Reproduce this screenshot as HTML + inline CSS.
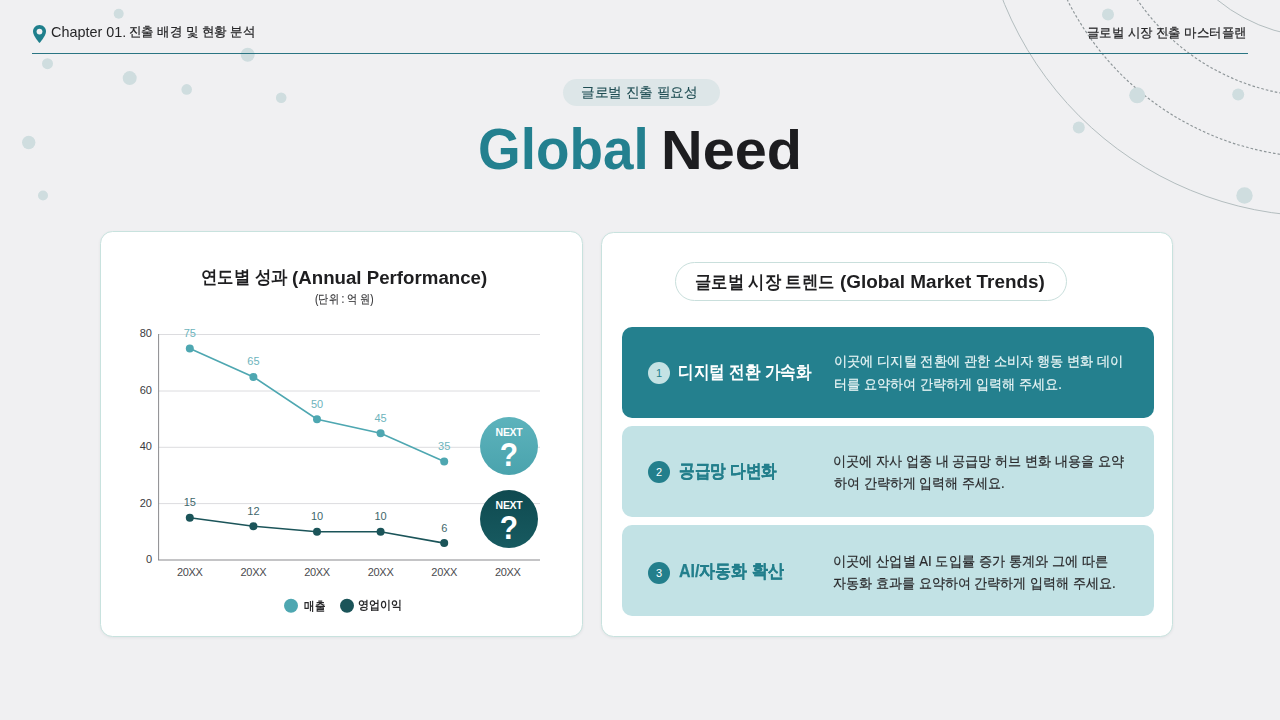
<!DOCTYPE html>
<html lang="ko">
<head>
<meta charset="utf-8">
<style>
*{margin:0;padding:0;box-sizing:border-box}
html,body{width:1280px;height:720px;overflow:hidden}
body{position:relative;background:#f0f0f2;font-family:"Liberation Sans",sans-serif;color:#222}
.abs{position:absolute}
.nw{white-space:nowrap}
#bg{position:absolute;left:0;top:0}
.hdr{position:absolute;top:24px;font-size:14px;line-height:16px;color:#252527;white-space:nowrap}
.card{position:absolute;background:#fff;border:1px solid #c8e2de;border-radius:12.5px;box-shadow:0 1px 3px rgba(40,60,70,0.07)}
.item{position:absolute;left:622px;width:532px;border-radius:10px}
.num{position:absolute;left:648px;width:22px;height:22px;border-radius:50%;font-size:11px;line-height:22px;text-align:center}
.ititle{position:absolute;left:679px;font-size:18px;line-height:20px;font-weight:700;white-space:nowrap;letter-spacing:-2.2px}
.idesc{position:absolute;left:834px;font-size:14px;line-height:23px;white-space:nowrap;letter-spacing:-0.7px}
.tx{position:absolute;white-space:nowrap;line-height:1;transform-origin:0 0}
</style>
</head>
<body>
<svg id="bg" width="1280" height="720" viewBox="0 0 1280 720">
  <defs>
    <filter id="blur" x="-50%" y="-50%" width="200%" height="200%"><feGaussianBlur stdDeviation="0.6"/></filter>
  </defs>
  <g fill="none" stroke-width="1">
    <circle cx="1321.6" cy="-126.7" r="343" stroke="#b3bdbf"/>
    <circle cx="1321.6" cy="-126.7" r="284" stroke="#8e9699" stroke-width="1.15" stroke-dasharray="2.6 2"/>
    <circle cx="1321.6" cy="-126.7" r="223.5" stroke="#8e9699" stroke-width="1.15" stroke-dasharray="2.6 2"/>
    <circle cx="1321.6" cy="-126.7" r="164" stroke="#b3bdbf"/>
  </g>
  <g fill="#cfdddf" filter="url(#blur)">
    <circle cx="118.7" cy="13.7" r="5"/>
    <circle cx="47.5" cy="63.7" r="5.5"/>
    <circle cx="129.7" cy="78.1" r="7"/>
    <circle cx="186.7" cy="89.4" r="5.3"/>
    <circle cx="247.7" cy="54.7" r="7"/>
    <circle cx="281.2" cy="97.7" r="5.3"/>
    <circle cx="28.7" cy="142.5" r="6.7"/>
    <circle cx="43" cy="195.5" r="5"/>
    <circle cx="1108" cy="14.6" r="6"/>
    <circle cx="1137.2" cy="95.3" r="8"/>
    <circle cx="1078.8" cy="127.4" r="6"/>
    <circle cx="1238.2" cy="94.6" r="6"/>
    <circle cx="1244.5" cy="195.5" r="8.2"/>
  </g>
</svg>

<!-- header -->
<svg class="abs" style="left:33px;top:25px" width="13" height="18" viewBox="0 0 13 18">
  <path d="M6.5 0C2.9 0 0 2.9 0 6.4c0 4.3 6.5 11.6 6.5 11.6S13 10.7 13 6.4C13 2.9 10.1 0 6.5 0z" fill="#1f7f8c"/>
  <circle cx="6.5" cy="6.6" r="2.9" fill="#f0f0f2"/>
</svg>
<div class="abs" style="left:32px;top:53px;width:1216px;height:1px;background:#2a7583"></div>

<!-- title -->
<div class="abs" style="left:562.5px;top:78.5px;width:157px;height:27px;border-radius:14px;background:#dde6e8"></div>

<!-- left card -->
<div class="card" style="left:99.5px;top:230.5px;width:483px;height:406px"></div>

<svg class="abs" style="left:0;top:0" width="1280" height="720" viewBox="0 0 1280 720">
  <g stroke="#dcdcdf" stroke-width="1">
    <line x1="158.5" y1="334.5" x2="540" y2="334.5"/>
    <line x1="158.5" y1="391" x2="540" y2="391"/>
    <line x1="158.5" y1="447.3" x2="540" y2="447.3"/>
    <line x1="158.5" y1="503.6" x2="540" y2="503.6"/>
  </g>
  <line x1="158.6" y1="334" x2="158.6" y2="560" stroke="#8a8a8e" stroke-width="1"/>
  <line x1="158" y1="560" x2="540" y2="560" stroke="#8a8a8e" stroke-width="1.2"/>
  <g font-family="Liberation Sans" font-size="11" fill="#3a3a3e" text-anchor="end">
    <text x="152" y="337">80</text>
    <text x="152" y="393.5">60</text>
    <text x="152" y="450">40</text>
    <text x="152" y="506.5">20</text>
    <text x="152" y="563">0</text>
  </g>
  <g font-family="Liberation Sans" font-size="11" fill="#4a4a4e" text-anchor="middle" letter-spacing="-0.3">
    <text x="189.8" y="576">20XX</text>
    <text x="253.4" y="576">20XX</text>
    <text x="317" y="576">20XX</text>
    <text x="380.6" y="576">20XX</text>
    <text x="444.2" y="576">20XX</text>
    <text x="507.8" y="576">20XX</text>
  </g>
  <!-- series 1 -->
  <polyline points="189.8,348.6 253.4,376.9 317,419.2 380.6,433.3 444.2,461.5" fill="none" stroke="#4ea7b1" stroke-width="1.6"/>
  <g fill="#4ea7b1">
    <circle cx="189.8" cy="348.6" r="4"/>
    <circle cx="253.4" cy="376.9" r="4"/>
    <circle cx="317" cy="419.2" r="4"/>
    <circle cx="380.6" cy="433.3" r="4"/>
    <circle cx="444.2" cy="461.5" r="4"/>
  </g>
  <g font-family="Liberation Sans" font-size="11" fill="#6db4bc" text-anchor="middle">
    <text x="189.8" y="337">75</text>
    <text x="253.4" y="365.3">65</text>
    <text x="317" y="407.6">50</text>
    <text x="380.6" y="421.7">45</text>
    <text x="444.2" y="449.9">35</text>
  </g>
  <!-- series 2 -->
  <polyline points="189.8,517.7 253.4,526.2 317,531.8 380.6,531.8 444.2,543.1" fill="none" stroke="#1b5459" stroke-width="1.6"/>
  <g fill="#1b5459">
    <circle cx="189.8" cy="517.7" r="4"/>
    <circle cx="253.4" cy="526.2" r="4"/>
    <circle cx="317" cy="531.8" r="4"/>
    <circle cx="380.6" cy="531.8" r="4"/>
    <circle cx="444.2" cy="543.1" r="4"/>
  </g>
  <g font-family="Liberation Sans" font-size="11" fill="#41676b" text-anchor="middle">
    <text x="189.8" y="506.3">15</text>
    <text x="253.4" y="514.8">12</text>
    <text x="317" y="520.4">10</text>
    <text x="380.6" y="520.4">10</text>
    <text x="444.2" y="531.7">6</text>
  </g>
  <!-- next circles -->
  <defs>
    <linearGradient id="g1" x1="0" y1="0" x2="0" y2="1"><stop offset="0" stop-color="#5db3bc"/><stop offset="1" stop-color="#4aa3ad"/></linearGradient>
    <linearGradient id="g2" x1="0" y1="0" x2="0" y2="1"><stop offset="0" stop-color="#0f4a50"/><stop offset="1" stop-color="#175a60"/></linearGradient>
  </defs>
  <circle cx="509" cy="446" r="29" fill="url(#g1)"/>
  <circle cx="509" cy="519" r="29" fill="url(#g2)"/>
  <g font-family="Liberation Sans" font-weight="700" fill="#fff" text-anchor="middle">
    <text x="509" y="436" font-size="10.5" letter-spacing="-0.3">NEXT</text>
    <text x="509" y="466" font-size="34" transform="translate(509 0) scale(0.88 1) translate(-509 0)">?</text>
    <text x="509" y="509" font-size="10.5" letter-spacing="-0.3">NEXT</text>
    <text x="509" y="539.5" font-size="34" transform="translate(509 0) scale(0.88 1) translate(-509 0)">?</text>
  </g>
  <!-- legend -->
  <circle cx="291" cy="605.8" r="7" fill="#4ea7b1"/>
  <circle cx="347" cy="605.8" r="7" fill="#1b5459"/>
</svg>

<!-- right card -->
<div class="card" style="left:600.5px;top:232px;width:572px;height:405px"></div>
<div class="abs" style="left:675px;top:261.5px;width:392px;height:39.5px;border:1px solid #c9dfdc;border-radius:20px;background:#fff"></div>

<div class="item" style="top:327px;height:91px;background:#24808e"></div>
<div class="num" style="top:362px;background:#c4e2e4;color:#237f8c">1</div>

<div class="item" style="top:426px;height:91px;background:#c2e2e5"></div>
<div class="num" style="top:461px;background:#237f8c;color:#fff">2</div>

<div class="item" style="top:525px;height:90.5px;background:#c2e2e5"></div>
<div class="num" style="top:562px;background:#237f8c;color:#fff">3</div>

<div class="tx" style="left:50.51px;top:24.9px;font-size:14.5px;font-weight:400;color:#252527;transform:scaleX(0.9919)">Chapter 01.</div>
<div class="tx" style="left:128.84px;top:25.4px;font-size:13px;font-weight:400;color:#252527;transform:scaleX(0.9586);-webkit-text-stroke:0.25px #252527">진출 배경 및 현황 분석</div>
<div class="tx" style="left:1087.44px;top:25.55px;font-size:13px;font-weight:400;color:#252527;transform:scaleX(0.9552);-webkit-text-stroke:0.25px #252527">글로벌 시장 진출 마스터플랜</div>
<div class="tx" style="left:581.33px;top:85.0px;font-size:14.0px;font-weight:400;color:#1f4d53;transform:scaleX(0.9744);-webkit-text-stroke:0.15px #1f4d53">글로벌 진출 필요성</div>
<div class="tx" style="left:201.09px;top:269.3px;font-size:17.5px;font-weight:700;color:#1e1e20;transform:scaleX(0.9106)">연도별 성과</div>
<div class="tx" style="left:292.46px;top:269.0px;font-size:18px;font-weight:700;color:#1e1e20;transform:scaleX(1.0382)">(Annual Performance)</div>
<div class="tx" style="left:314.75px;top:293.35px;font-size:12.0px;font-weight:400;color:#333335;transform:scaleX(0.8456);-webkit-text-stroke:0.15px #333335">(단위 : 억 원)</div>
<div class="tx" style="left:695.09px;top:274.3px;font-size:17.5px;font-weight:700;color:#1e1e20;transform:scaleX(0.9066)">글로벌 시장 트렌드</div>
<div class="tx" style="left:840.25px;top:272.75px;font-size:18px;font-weight:700;color:#1e1e20;transform:scaleX(1.0503)">(Global Market Trends)</div>
<div class="tx" style="left:677.88px;top:362.68px;font-size:18.0px;font-weight:700;color:#ffffff;transform:scaleX(0.866)">디지털 전환 가속화</div>
<div class="tx" style="left:678.73px;top:462.0px;font-size:18.0px;font-weight:700;color:#237f8c;transform:scaleX(0.867);-webkit-text-stroke:0.25px #237f8c">공급망 다변화</div>
<div class="tx" style="left:679.0px;top:562.08px;font-size:18px;font-weight:700;color:#237f8c;transform:scaleX(0.8877);-webkit-text-stroke:0.25px #237f8c">AI/자동화 확산</div>
<div class="tx" style="left:833.56px;top:354.05px;font-size:14px;font-weight:400;color:#e8f4f5;transform:scaleX(0.9424);-webkit-text-stroke:0.2px #e8f4f5">이곳에 디지털 전환에 관한 소비자 행동 변화 데이</div>
<div class="tx" style="left:833.56px;top:377.4px;font-size:14px;font-weight:400;color:#e8f4f5;transform:scaleX(0.936);-webkit-text-stroke:0.2px #e8f4f5">터를 요약하여 간략하게 입력해 주세요.</div>
<div class="tx" style="left:833.27px;top:453.5px;font-size:14px;font-weight:400;color:#2a2a2c;transform:scaleX(0.9348);-webkit-text-stroke:0.22px #2a2a2c">이곳에 자사 업종 내 공급망 허브 변화 내용을 요약</div>
<div class="tx" style="left:834.2px;top:475.65px;font-size:14px;font-weight:400;color:#2a2a2c;transform:scaleX(0.929);-webkit-text-stroke:0.22px #2a2a2c">하여 간략하게 입력해 주세요.</div>
<div class="tx" style="left:833.26px;top:553.5px;font-size:14px;font-weight:400;color:#2a2a2c;transform:scaleX(0.9407);-webkit-text-stroke:0.22px #2a2a2c">이곳에 산업별 AI 도입률 증가 통계와 그에 따른</div>
<div class="tx" style="left:833.27px;top:575.65px;font-size:14px;font-weight:400;color:#2a2a2c;transform:scaleX(0.9318);-webkit-text-stroke:0.22px #2a2a2c">자동화 효과를 요약하여 간략하게 입력해 주세요.</div>
<div class="tx" style="left:304.0px;top:600.75px;font-size:11.5px;font-weight:700;color:#2a2a2c;transform:scaleX(0.8792)">매출</div>
<div class="tx" style="left:357.58px;top:600.25px;font-size:11.5px;font-weight:700;color:#2a2a2c;transform:scaleX(0.9174)">영업이익</div>
<div class="tx" style="left:477.99px;top:121.15px;font-size:57.5px;font-weight:700;color:#23808f;transform:scaleX(0.9543)">Global</div>
<div class="tx" style="left:661.48px;top:122.7px;font-size:55.5px;font-weight:700;color:#1d1d20;transform:scaleX(1.0395)">Need</div>
</body>
</html>
